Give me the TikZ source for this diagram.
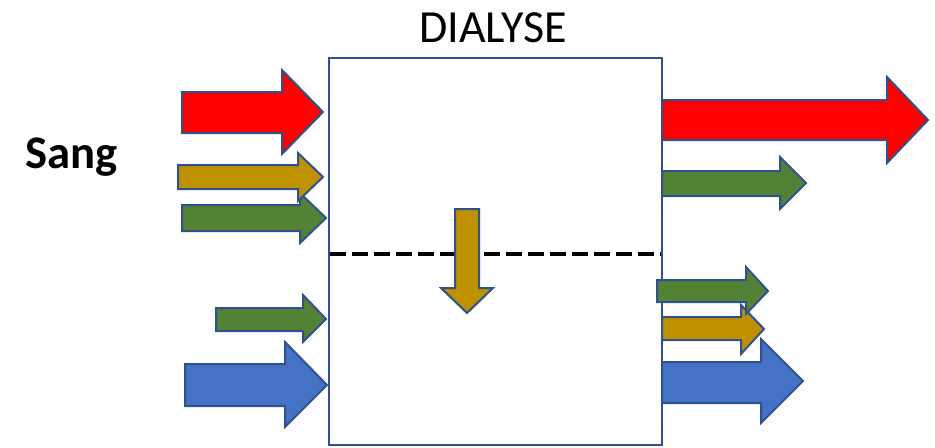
\documentclass[tikz,border=0pt]{standalone}
\usepackage{fontspec}
\setmainfont{Carlito}
\usepackage{tikz}

\definecolor{outline}{RGB}{47,82,143}
\definecolor{sangred}{RGB}{255,0,0}
\definecolor{gold}{RGB}{191,144,0}
\definecolor{leaf}{RGB}{84,130,53}
\definecolor{water}{RGB}{68,114,196}

\begin{document}
\begin{tikzpicture}[x=0.75pt,y=0.75pt,yscale=-1,xscale=1,
  blockarrow/.style={draw=outline, line width=1.5, line join=miter},
  membrane/.style={draw=black, line width=3, dash pattern={on 12pt off 4.5pt}}]
\useasboundingbox (0,0) rectangle (935,447);

%Rectangle
\draw [color=outline, line width=1.5, fill=white] (329,58) rectangle (662,445) ;
%Dashed line
\draw [membrane] (330,254) -- (661,254) ;

%Right Arrow red in
\draw [blockarrow, fill=sangred] (182,92) -- (282,92) -- (282,70) -- (323,112) -- (282,154) -- (282,133) -- (182,133) -- cycle ;
%Right Arrow green in
\draw [blockarrow, fill=leaf] (182,205) -- (300,205) -- (300,193) -- (326,218) -- (300,243) -- (300,231) -- (182,231) -- cycle ;
%Right Arrow gold in
\draw [blockarrow, fill=gold] (178,165) -- (298,165) -- (298,153) -- (323,177) -- (298,201) -- (298,189) -- (178,189) -- cycle ;
%Right Arrow green in (low)
\draw [blockarrow, fill=leaf] (216,308) -- (303,308) -- (303,295) -- (326,319) -- (303,342) -- (303,331) -- (216,331) -- cycle ;
%Right Arrow blue in
\draw [blockarrow, fill=water] (185,364) -- (285,364) -- (285,342) -- (327,385) -- (285,427) -- (285,406) -- (185,406) -- cycle ;

%Right Arrow red out
\draw [blockarrow, fill=sangred] (662,100) -- (887,100) -- (887,77) -- (928,120) -- (887,163) -- (887,140) -- (662,140) -- cycle ;
%Right Arrow green out
\draw [blockarrow, fill=leaf] (662,171) -- (780,171) -- (780,157) -- (806,183) -- (780,209) -- (780,196) -- (662,196) -- cycle ;
%Right Arrow gold out
\draw [blockarrow, fill=gold] (662,317) -- (741,317) -- (741,305) -- (764,329) -- (741,354) -- (741,340) -- (662,340) -- cycle ;
%Right Arrow green out (low)
\draw [blockarrow, fill=leaf] (657,280) -- (746,280) -- (746,267) -- (768,291) -- (746,314) -- (746,302) -- (657,302) -- cycle ;
%Right Arrow blue out
\draw [blockarrow, fill=water] (662,362) -- (761,362) -- (761,339) -- (803,381) -- (761,423) -- (761,403) -- (662,403) -- cycle ;

%Down Arrow gold
\draw [blockarrow, fill=gold] (455,209) -- (479,209) -- (479,288) -- (493,288) -- (467,313) -- (441,288) -- (455,288) -- cycle ;

% Text
\node (title) [anchor=base, inner sep=0] at (493,42) {\fontsize{34.5}{38}\selectfont DIALYSE};
\node (sang) [anchor=base, inner sep=0] at (71.5,168) {\fontsize{35}{38}\selectfont\bfseries Sang};
\end{tikzpicture}
\end{document}
